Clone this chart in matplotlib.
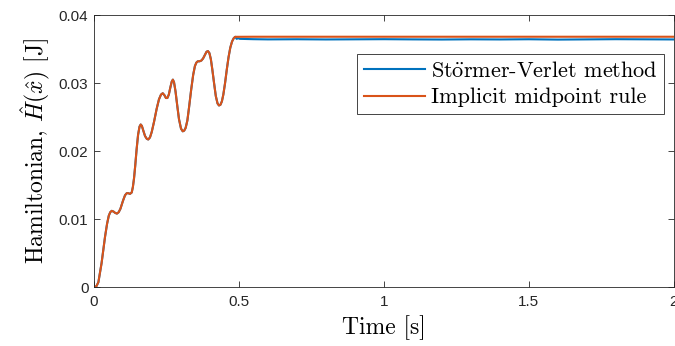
import matplotlib
matplotlib.use("Agg")
import matplotlib.pyplot as plt
import numpy as np

plt.rcParams['mathtext.fontset'] = 'cm'

# Hamiltonian (both methods coincide up to ~0.49 s)
t_rise = [0.0, 0.008, 0.015, 0.026, 0.038, 0.045, 0.051, 0.056, 0.061, 0.067, 0.073, 0.079,
          0.085, 0.091, 0.100, 0.107, 0.113, 0.118, 0.124, 0.130, 0.134, 0.138, 0.142,
          0.147, 0.152, 0.157, 0.161, 0.165, 0.170, 0.176, 0.182, 0.187, 0.193, 0.199,
          0.207, 0.216, 0.224, 0.231, 0.237, 0.243, 0.248, 0.253, 0.258, 0.263, 0.268,
          0.272, 0.276, 0.281, 0.287, 0.293, 0.300, 0.306, 0.311, 0.316, 0.322, 0.328,
          0.335, 0.342, 0.348, 0.353, 0.358, 0.364, 0.370, 0.376, 0.382, 0.388, 0.393,
          0.398, 0.403, 0.408, 0.414, 0.420, 0.426, 0.431, 0.436, 0.441, 0.446, 0.452,
          0.458, 0.464, 0.470, 0.476, 0.482, 0.487, 0.492, 0.497, 0.503]
H_rise = [0.0, 0.0001, 0.0007, 0.0035, 0.0074, 0.0093, 0.0105, 0.0110, 0.0112, 0.0111, 0.0109, 0.0108,
          0.0110, 0.0115, 0.0127, 0.0135, 0.0138, 0.0138, 0.0137, 0.0139, 0.0147, 0.0160, 0.0178,
          0.0203, 0.0224, 0.0236, 0.0239, 0.0237, 0.0230, 0.0222, 0.0218, 0.0217, 0.0220, 0.0228,
          0.0243, 0.0262, 0.0276, 0.0283, 0.0285, 0.0282, 0.0278, 0.0278, 0.0283, 0.0293, 0.0302,
          0.0305, 0.0301, 0.0288, 0.0267, 0.0247, 0.0233, 0.0229, 0.0230, 0.0234, 0.0245, 0.0265,
          0.0290, 0.0312, 0.0325, 0.0330, 0.0332, 0.0332, 0.0333, 0.0336, 0.0341, 0.0346, 0.0347,
          0.0344, 0.0335, 0.0320, 0.0300, 0.0281, 0.0270, 0.0267, 0.0268, 0.0273, 0.0283, 0.0300,
          0.0320, 0.0338, 0.0352, 0.0361, 0.0366, 0.0368, 0.0368, 0.0368, 0.0368]

# flat part after the excitation stops
t_flat = [0.55, 0.6, 0.7, 0.8, 0.9, 1.0, 1.1, 1.2, 1.3, 1.4, 1.5, 1.6, 1.7, 1.8, 1.9, 2.0]
H_imp_flat = [0.03681] * len(t_flat)
H_sv_flat = [0.03645, 0.03642, 0.03644, 0.03641, 0.03643, 0.03645, 0.03642, 0.03640,
             0.03643, 0.03641, 0.03644, 0.03639, 0.03642, 0.03645, 0.03643, 0.03641]

H_sv_rise = list(H_rise)
H_sv_rise[-3:] = [0.0365, 0.0366, 0.0365]

t_all = t_rise + t_flat
H_sv = H_sv_rise + H_sv_flat
H_imp = H_rise + H_imp_flat

fig = plt.figure(figsize=(6.75, 3.46), dpi=100)
ax = fig.add_axes([0.1393, 0.1705, 0.859, 0.786])

ax.plot(t_all, H_sv, color='#0072BD', lw=1.5, label=r'St$\ddot{\mathrm{o}}$rmer-Verlet method')
ax.plot(t_all, H_imp, color='#D95319', lw=1.5, label='Implicit midpoint rule')

ax.set_xlim(0, 2)
ax.set_ylim(0, 0.04)
ax.set_xticks([0, 0.5, 1, 1.5, 2])
ax.set_xticklabels(['0', '0.5', '1', '1.5', '2'])
ax.set_yticks([0, 0.01, 0.02, 0.03, 0.04])
ax.set_yticklabels(['0', '0.01', '0.02', '0.03', '0.04'])

ax.tick_params(direction='in', top=True, right=True, length=4, width=0.6,
               colors='#262626', labelsize=11)
ax.tick_params(axis='x', pad=6)
ax.tick_params(axis='y', pad=4)
for lab in ax.get_xticklabels() + ax.get_yticklabels():
    lab.set_family('Liberation Sans')
for s in ax.spines.values():
    s.set_color('#262626')
    s.set_linewidth(0.6)

serif = ['cmr10', 'DejaVu Serif']
ax.set_xlabel('Time [s]', fontsize=17, family=serif, labelpad=4)
ax.set_ylabel(r'Hamiltonian, $\hat{H}(\hat{x})$ [J]', fontsize=17, family=serif, labelpad=5)

leg = ax.legend(loc='upper right', bbox_to_anchor=(0.983, 0.855), borderaxespad=0,
                prop={'family': serif, 'size': 16}, fancybox=False, framealpha=1,
                edgecolor='#262626', handlelength=2.75, handletextpad=0.25,
                borderpad=0.3, labelspacing=0.3)
leg.get_frame().set_linewidth(0.6)

fig.savefig('out.png', dpi=100)
